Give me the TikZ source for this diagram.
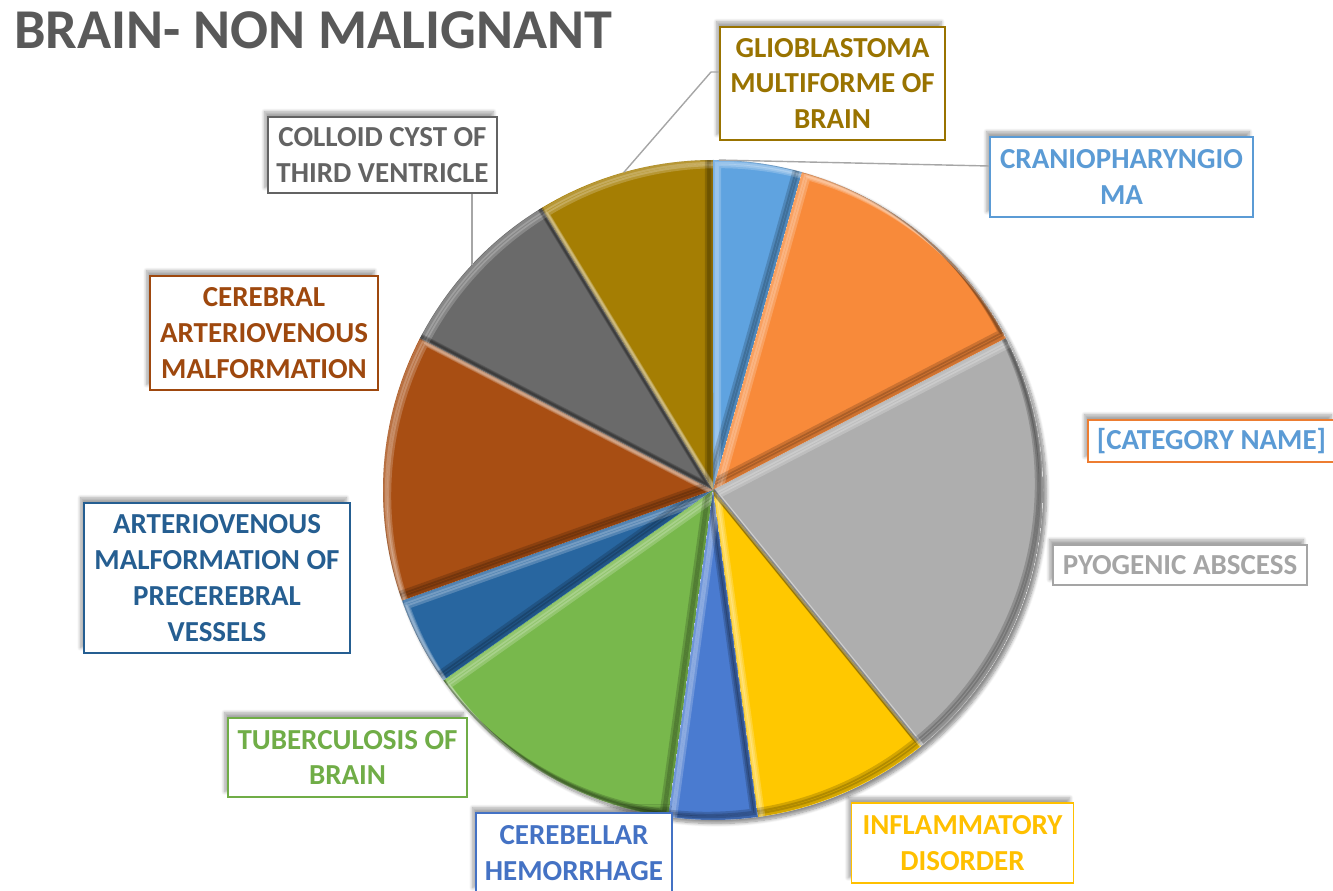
\documentclass[tikz,border=0pt]{standalone}
\usepackage{fontspec}
\setmainfont{Carlito}
\usetikzlibrary{calc,shadows.blur}
% label colours
\definecolor{titlegray}{HTML}{595959}
\definecolor{leadergray}{HTML}{A6A6A6}
\definecolor{craniC}{HTML}{5B9BD5}
\definecolor{orangeC}{HTML}{ED7D31}
\definecolor{pyoC}{HTML}{A5A5A5}
\definecolor{inflC}{HTML}{FFC000}
\definecolor{cereC}{HTML}{4472C4}
\definecolor{tbC}{HTML}{70AD47}
\definecolor{avmC}{HTML}{255E91}
\definecolor{cavmC}{HTML}{9E480E}
\definecolor{colC}{HTML}{636363}
\definecolor{glioC}{HTML}{997300}
% slice colours
\definecolor{craniS}{HTML}{5FA3E0}
\definecolor{orangeS}{HTML}{F88A3A}
\definecolor{pyoS}{HTML}{AEAEAE}
\definecolor{inflS}{HTML}{FFC800}
\definecolor{cereS}{HTML}{4A7BD0}
\definecolor{tbS}{HTML}{78B84C}
\definecolor{avmS}{HTML}{2866A0}
\definecolor{cavmS}{HTML}{A84E13}
\definecolor{colS}{HTML}{6A6A6A}
\definecolor{glioS}{HTML}{A57E03}
\tikzset{
  lbl/.style={draw=#1, text=#1, fill=white, line width=0.9pt, align=center, inner sep=0pt,
    font=\bfseries\fontsize{16.5}{20.4}\selectfont,
    blur shadow={shadow xshift=-2pt, shadow yshift=3pt, shadow opacity=35, shadow blur steps=8}},
  leader/.style={draw=leadergray, line width=0.8pt}
}
\begin{document}
\begin{tikzpicture}[x=0.02cm,y=-0.02cm]
  \def\cx{713}
  \def\cy{490}
  \def\pr{330}
  \def\u{15.652}
  \useasboundingbox (0,0) rectangle (1333,891);
  % Title
  \node[anchor=base west, inner sep=0pt, text=titlegray, font=\bfseries\fontsize{32}{38}\selectfont] (title) at (14,49) {BRAIN- NON MALIGNANT};
  % Pie shadow
  \path[fill=white, blur shadow={shadow xshift=2pt, shadow yshift=-2pt, shadow opacity=45, shadow blur steps=8}] (\cx,\cy) circle (\pr);
  % Pie slices, 23 parts
  \foreach \a/\b/\c in {0/1/craniS, 1/4/orangeS, 4/9/pyoS, 9/11/inflS, 11/12/cereS,
                        12/15/tbS, 15/16/avmS, 16/19/cavmS, 19/21/colS, 21/23/glioS} {
    \def\slpath{(\cx,\cy) -- ++(\a*\u-90:\pr) arc (\a*\u-90:\b*\u-90:\pr) -- cycle}
    \begin{scope}
      \clip \slpath;
      \fill[\c] \slpath;
      % bevel: light on the upper left, dark on the lower right
      \foreach \k in {1,2,3} {
        \draw[white, opacity=.2, line width=2.5pt, shift={(2*\k,2*\k)}] \slpath;
        \draw[black, opacity=.17, line width=2.5pt, shift={(-2*\k,-2*\k)}] \slpath;
      }
    \end{scope}
  }
  % Leader ends on the pie
  \coordinate (glioPie) at ($(\cx,\cy)+(22*\u-90:\pr)$);
  \coordinate (glioKnee) at (711,72);
  \coordinate (colPie) at ($(\cx,\cy)+(20*\u-90:\pr)$);
  \coordinate (craniPie) at ($(\cx,\cy)+(1-90:\pr)$);
  % Labels
  \node[lbl=glioC, minimum width=4.5cm, minimum height=2.26cm] (glio) at (832.5,83.5)
    {GLIOBLASTOMA\\MULTIFORME OF\\BRAIN};
  \node[lbl=colC, minimum width=4.58cm, minimum height=1.52cm] (col) at (382.5,155)
    {COLLOID CYST OF\\THIRD VENTRICLE};
  \node[lbl=craniC, minimum width=5.26cm, minimum height=1.6cm] (crani) at (1121.5,177)
    {CRANIOPHARYNGIO\\MA};
  \node[lbl=orangeC, text=craniC, minimum width=4.94cm, minimum height=0.84cm] (catname) at (1211.5,441)
    {[CATEGORY NAME]};
  \node[lbl=pyoC, minimum width=5.08cm, minimum height=0.8cm] (pyo) at (1180,565)
    {PYOGENIC ABSCESS};
  \node[lbl=inflC, minimum width=4.44cm, minimum height=1.6cm] (infl) at (962.5,843)
    {INFLAMMATORY\\DISORDER};
  \node[lbl=cereC, minimum width=3.92cm, minimum height=1.6cm] (cere) at (574,853)
    {CEREBELLAR\\HEMORRHAGE};
  \node[lbl=tbC, minimum width=4.78cm, minimum height=1.58cm] (tb) at (347.5,757.5)
    {TUBERCULOSIS OF\\BRAIN};
  \node[lbl=avmC, minimum width=5.32cm, minimum height=3cm] (avm) at (217,578)
    {ARTERIOVENOUS\\MALFORMATION OF\\PRECEREBRAL\\VESSELS};
  \node[lbl=cavmC, minimum width=4.56cm, minimum height=2.28cm] (cavm) at (264,333)
    {CEREBRAL\\ARTERIOVENOUS\\MALFORMATION};
  % Leader lines
  \draw[leader] (glioPie) -- (glioKnee) -- (glio.west |- glioKnee);
  \draw[leader] (colPie) -- (colPie |- col.south);
  \draw[leader] (craniPie) -- ([yshift=0.22cm]crani.west);
\end{tikzpicture}
\end{document}
